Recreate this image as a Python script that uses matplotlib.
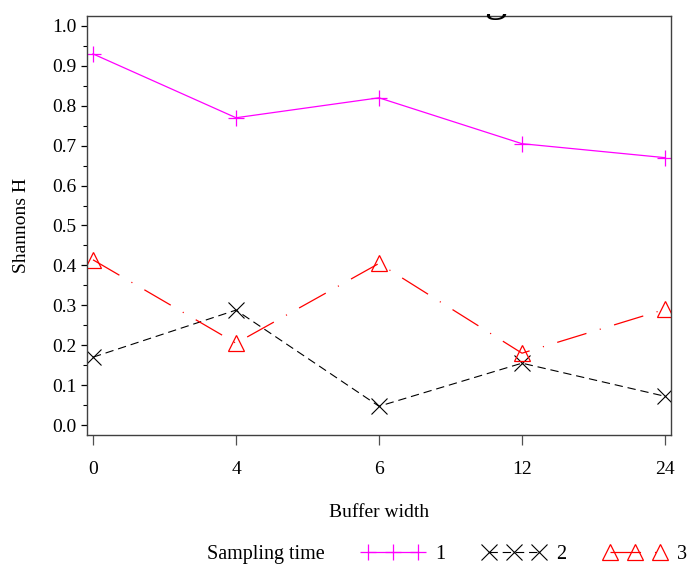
import matplotlib
matplotlib.use("Agg")
import matplotlib.pyplot as plt
from matplotlib.transforms import Bbox
from matplotlib.ticker import MultipleLocator, FormatStrFormatter

## Shannon diversity by buffer width, one line per sampling time
buffer_width = ['0', '4', '6', '12', '24']
h_time1 = [0.93, 0.77, 0.82, 0.705, 0.67]
h_time2 = [0.17, 0.288, 0.047, 0.155, 0.072]
h_time3 = [0.414, 0.205, 0.405, 0.18, 0.29]
legend_labels = ['1', '2', '3']

plt.rcParams['font.family'] = ['Liberation Serif', 'DejaVu Serif']
plt.rcParams['lines.scale_dashes'] = False

fig = plt.figure(figsize=(6.91, 5.66), dpi=100)
W, H = 691., 566.
ax = fig.add_axes([87 / W, 1 - 435 / H, (671 - 87) / W, (435 - 16) / H])

xs = list(range(len(buffer_width)))

l1, = ax.plot(xs, h_time1, '-', color='#FF00FF', lw=0.9,
              marker='+', ms=11, mew=0.9)
l2, = ax.plot(xs, h_time2, color='black', lw=0.8, dashes=(6, 3.5),
              marker='x', ms=11, mew=0.8)
l3, = ax.plot(xs, h_time3, color='red', lw=0.9, dashes=(22, 10, 0.8, 10),
              marker='^', ms=12, mew=0.9, mfc='none', mec='red')

ax.set_xlim(-0.042, 4.042)
ax.set_ylim(-0.025, 1.025)
ax.set_xticks(xs)
ax.set_xticklabels(buffer_width)
ax.yaxis.set_major_locator(MultipleLocator(0.1))
ax.yaxis.set_minor_locator(MultipleLocator(0.05))
ax.yaxis.set_major_formatter(FormatStrFormatter('%.1f'))

ax.tick_params(axis='x', direction='out', length=7.5, width=0.9,
               color='#505050', pad=11, labelsize=14)
ax.tick_params(axis='y', which='major', direction='out', length=4.5,
               width=0.9, pad=3, labelsize=14)
ax.tick_params(axis='y', which='minor', direction='out', length=3, width=0.8)
for s in ax.spines.values():
    s.set_color('#404040')
    s.set_linewidth(1.0)

ax.set_xlabel('Buffer width', fontsize=14, labelpad=19)
ax.set_ylabel('Shannons H', fontsize=14, labelpad=16)

# title runs off the top of the page; only the tail of it shows
t = fig.text(495 / W, 1 - 10.5 / H, 'g', fontsize=32, ha='center',
             va='baseline')
t.set_clip_box(Bbox([[0, 0], [W, H - 14]]))
t.set_clip_on(True)

fig.text(207 / W, 1 - 555 / H, 'Sampling time', fontsize=14.5,
         ha='left', va='center')
fig.legend([l1, l2, l3], legend_labels, loc='center left',
           bbox_to_anchor=(362 / W, 1 - 554 / H), ncol=3, frameon=False,
           numpoints=3, handlelength=3.1, handletextpad=0.55,
           columnspacing=1.85, fontsize=14.5, borderaxespad=0, borderpad=0)

fig.savefig('out.png', dpi=100)
